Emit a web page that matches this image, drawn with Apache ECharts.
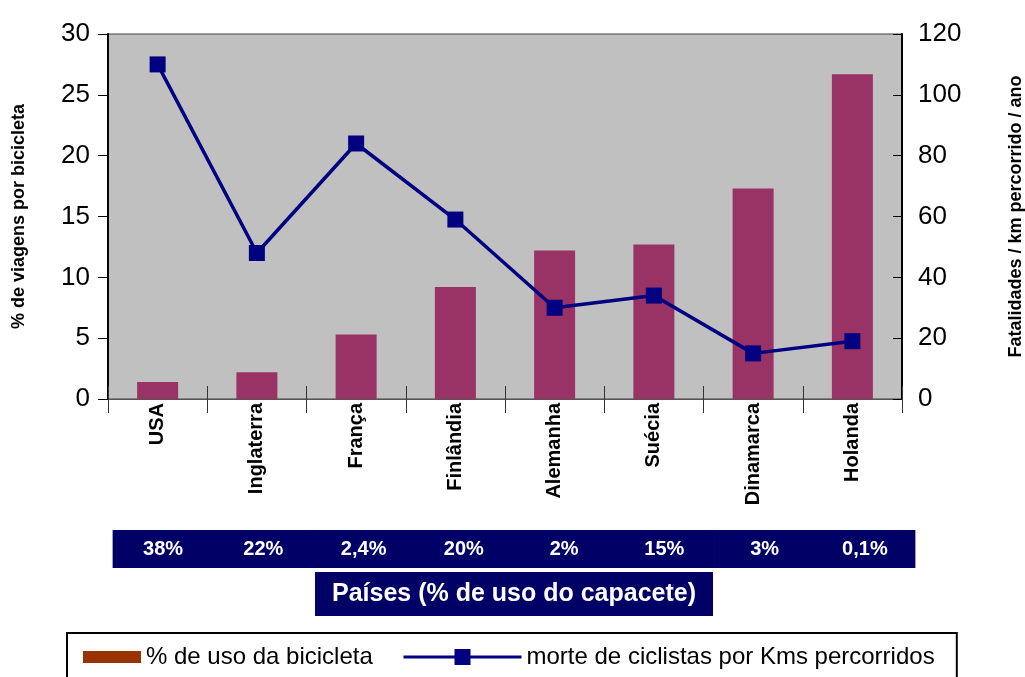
<!DOCTYPE html>
<html>
<head>
<meta charset="utf-8">
<script src="https://cdn.jsdelivr.net/npm/echarts@6/dist/echarts.min.js"></script>
<style>
html,body{margin:0;padding:0;background:#fff;}
#chart{width:1025px;height:677px;}
</style>
</head>
<body>
<div id="chart"></div>
<script>
const categories = ['USA', 'Inglaterra', 'França', 'Finlândia', 'Alemanha', 'Suécia', 'Dinamarca', 'Holanda'];
const bikeUse = [1.4, 2.2, 5.3, 9.2, 12.2, 12.7, 17.3, 26.7];
const deaths = [110, 48, 84, 59, 30, 34, 15, 19];
const helmetUse = ['38%', '22%', '2,4%', '20%', '2%', '15%', '3%', '0,1%'];
const bikeName = '% de uso da bicicleta';
const lineName = 'morte de ciclistas por Kms percorridos';
const leftAxisName = '% de viagens por bicicleta';
const rightAxisName = 'Fatalidades / km percorrido / ano';
const bandName = 'Países (% de uso do capacete)';

const chart = echarts.init(document.getElementById('chart'), null, {renderer: 'canvas'});
const FF = 'Liberation Sans, Arial, sans-serif';
chart.setOption({
  animation: false,
  backgroundColor: '#ffffff',
  textStyle: {fontFamily: FF, color: '#000'},
  grid: [
    {left: 108, right: 123, top: 34, bottom: 278, show: true, backgroundColor: '#c0c0c0', borderColor: '#404040', borderWidth: 1, containLabel: false, outerBoundsMode: 'none'},
    {left: 113, right: 110, top: 520, height: 2, show: false, containLabel: false, outerBoundsMode: 'none'}
  ],
  legend: [
    {
      left: 67, top: 633, padding: [12, 584, 30, 16],
      borderColor: '#000', borderWidth: 2,
      itemWidth: 58, itemHeight: 12, itemGap: 0,
      textStyle: {fontSize: 24, color: '#000', fontFamily: FF},
      data: [{name: bikeName, icon: 'rect', itemStyle: {color: '#993300'}}]
    },
    {
      left: 402, top: 645, padding: 0,
      itemWidth: 118, itemHeight: 20, itemGap: 0,
      textStyle: {fontSize: 24, color: '#000', fontFamily: FF},
      data: [{name: lineName, lineStyle: {width: 3, color: '#000080'}}]
    }
  ],
  xAxis: [
    {
      type: 'category', gridIndex: 0, position: 'bottom', data: categories,
      axisLine: {onZero: false, lineStyle: {color: '#555', width: 1}},
      axisTick: {show: true, length: 14, lineStyle: {color: '#333'}},
      axisLabel: {rotate: 90, interval: 0, margin: 4, fontSize: 20, fontWeight: 'bold', color: '#000', fontFamily: FF}
    },
    {
      type: 'category', gridIndex: 0, position: 'top', offset: -365, data: categories,
      axisLine: {show: false, onZero: false},
      axisTick: {show: true, length: 13, lineStyle: {color: '#333'}},
      axisLabel: {show: false}
    },
    {
      type: 'category', gridIndex: 1, position: 'bottom', data: helmetUse,
      axisLine: {show: false, onZero: false},
      axisTick: {show: false},
      axisLabel: {
        interval: 0, margin: 8, color: '#fff', fontWeight: 'bold', fontSize: 20, fontFamily: FF,
        backgroundColor: '#000066', width: 101, height: 38, lineHeight: 38, align: 'center'
      },
      name: bandName, nameLocation: 'middle', nameGap: 50,
      nameTextStyle: {
        color: '#fff', fontWeight: 'bold', fontSize: 25, fontFamily: FF,
        backgroundColor: '#000066', padding: [7, 17, 7, 17], lineHeight: 30
      }
    }
  ],
  yAxis: [
    {
      type: 'value', gridIndex: 0, position: 'left', min: 0, max: 30, interval: 5,
      axisLine: {show: true, lineStyle: {color: '#000', width: 2}},
      axisTick: {show: true, length: 10, lineStyle: {color: '#000'}},
      axisLabel: {margin: 18, fontSize: 26, color: '#000', fontFamily: FF},
      splitLine: {show: false},
      name: leftAxisName, nameLocation: 'middle', nameGap: 80, nameRotate: 90,
      nameTextStyle: {fontWeight: 'bold', fontSize: 18, color: '#000', fontFamily: FF}
    },
    {
      type: 'value', gridIndex: 0, position: 'right', min: 0, max: 120, interval: 20,
      axisLine: {show: true, lineStyle: {color: '#000', width: 2}},
      axisTick: {show: true, inside: true, length: 9, lineStyle: {color: '#000'}},
      axisLabel: {margin: 16, fontSize: 26, color: '#000', fontFamily: FF},
      splitLine: {show: false},
      name: rightAxisName, nameLocation: 'middle', nameGap: 105, nameRotate: 90,
      nameTextStyle: {fontWeight: 'bold', fontSize: 18, color: '#000', fontFamily: FF}
    },
    {type: 'value', gridIndex: 1, show: false}
  ],
  series: [
    {
      name: bikeName, type: 'bar', xAxisIndex: 0, yAxisIndex: 0, data: bikeUse,
      barWidth: 41, itemStyle: {color: '#993366'}
    },
    {
      name: lineName, type: 'line', xAxisIndex: 0, yAxisIndex: 1, data: deaths,
      symbol: 'rect', symbolSize: 16,
      lineStyle: {color: '#000080', width: 3.5},
      itemStyle: {color: '#000080'}
    }
  ]
});
</script>
</body>
</html>
